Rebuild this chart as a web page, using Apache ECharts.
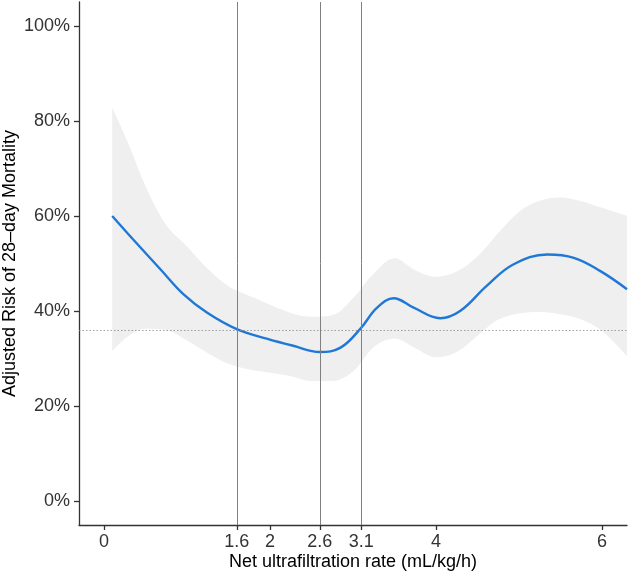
<!DOCTYPE html>
<html>
<head>
<meta charset="utf-8">
<script src="https://cdn.jsdelivr.net/npm/echarts@6/dist/echarts.min.js"></script>
<style>
  html, body { margin: 0; padding: 0; background: #fff; }
  #chart_risk { width: 630px; height: 576px; }
</style>
</head>
<body>
<div id="chart_risk"></div>
<script>
// 曲线（估计值）
const curveX = [0.1, 0.35, 0.68, 0.96, 1.24, 1.6, 1.96, 2.28, 2.6, 2.85, 3.09, 3.29, 3.49, 3.73, 4.05, 4.29, 4.61, 4.93, 5.34, 5.66, 5.98, 6.3];
const curveRisk = [60.0, 55.1, 48.8, 43.5, 39.7, 36.2, 34.2, 32.7, 31.4, 32.3, 36.3, 40.7, 42.7, 40.7, 38.5, 40.0, 45.3, 49.8, 51.9, 51.2, 48.4, 44.6];

// 置信区间
const bandX = [0.1, 0.3, 0.5, 0.75, 1.0, 1.25, 1.5, 1.75, 2.0, 2.25, 2.5, 2.75, 3.0, 3.25, 3.5, 3.75, 4.0, 4.25, 4.5, 4.75, 5.0, 5.25, 5.5, 5.75, 6.0, 6.3];
const bandLow = [31.6, 34.8, 36.3, 36.0, 33.8, 31.2, 28.9, 27.7, 27.0, 26.3, 25.3, 25.3, 27.3, 32.4, 34.2, 32.2, 30.3, 31.4, 34.8, 38.2, 39.5, 39.8, 39.3, 38.2, 35.8, 30.5];
const bandHigh = [82.8, 75.0, 66.3, 58.1, 53.6, 48.9, 45.2, 43.2, 41.3, 39.6, 38.8, 39.1, 42.7, 47.9, 51.1, 48.6, 47.2, 48.3, 51.5, 56.4, 60.9, 63.2, 63.9, 63.1, 61.7, 60.0];

// 刻度与参考线
const xTicks = [0, 1.6, 2, 2.6, 3.1, 4, 6];
const yTicks = [0, 20, 40, 60, 80, 100];
const cutPoints = [1.6, 2.6, 3.1];
const refRisk = 36;

const font = '"Liberation Sans", Arial, sans-serif';

let myChart = echarts.init(document.getElementById('chart_risk'));

let option = {
  animation: false,
  backgroundColor: '#fff',
  grid: {
    left: 79,
    right: 3,
    top: 2,
    bottom: 51,
    outerBoundsMode: 'none'
  },
  xAxis: {
    type: 'value',
    min: -0.3,
    max: 6.3,
    name: 'Net ultrafiltration rate (mL/kg/h)',
    nameLocation: 'middle',
    nameGap: 28,
    nameMoveOverlap: false,
    nameTextStyle: { fontFamily: font, fontSize: 18, color: '#000' },
    splitLine: { show: false },
    axisLine: { onZero: false, lineStyle: { color: '#333', width: 1.3 } },
    axisTick: { customValues: xTicks, length: 5, lineStyle: { color: '#333', width: 1.3 } },
    axisLabel: { customValues: xTicks, margin: 8, fontFamily: font, fontSize: 18, color: '#333' }
  },
  yAxis: {
    type: 'value',
    min: -5,
    max: 105,
    name: 'Adjusted Risk of 28\u2013day Mortality',
    nameLocation: 'middle',
    nameGap: 60,
    nameMoveOverlap: false,
    nameTextStyle: { fontFamily: font, fontSize: 18, color: '#000' },
    splitLine: { show: false },
    axisLine: { show: true, onZero: false, lineStyle: { color: '#333', width: 1.3 } },
    axisTick: { show: true, customValues: yTicks, length: 5, lineStyle: { color: '#333', width: 1.3 } },
    axisLabel: { customValues: yTicks, margin: 9, fontFamily: font, fontSize: 18, color: '#333', formatter: '{value}%' }
  },
  series: [{
    // 下界（透明），y 维放在第一列以便按 y 堆叠
    name: 'lower',
    type: 'line',
    stack: 'ci',
    encode: { x: 1, y: 0 },
    z: 1,
    smooth: 0.35,
    symbol: 'none',
    silent: true,
    lineStyle: { opacity: 0 },
    data: bandX.map((x, i) => [bandLow[i], x])
  }, {
    // 区间宽度，堆叠在下界之上
    name: 'ci',
    type: 'line',
    stack: 'ci',
    encode: { x: 1, y: 0 },
    z: 1,
    smooth: 0.35,
    symbol: 'none',
    silent: true,
    lineStyle: { opacity: 0 },
    areaStyle: { color: '#efefef', opacity: 1 },
    data: bandX.map((x, i) => [bandHigh[i] - bandLow[i], x])
  }, {
    name: 'ref',
    type: 'line',
    z: 3,
    symbol: 'none',
    silent: true,
    data: [],
    markLine: {
      silent: true,
      symbol: ['none', 'none'],
      label: { show: false },
      data: cutPoints.map(v => ({ xAxis: v, lineStyle: { color: '#808080', width: 1, type: 'solid' } }))
        .concat([{ yAxis: refRisk, lineStyle: { color: '#888', width: 0.8, type: [1.5, 2] } }])
    }
  }, {
    name: 'risk',
    type: 'line',
    z: 4,
    smooth: 0.4,
    symbol: 'none',
    lineStyle: { color: '#1f78d6', width: 2.4 },
    data: curveX.map((x, i) => [x, curveRisk[i]])
  }]
};

myChart.setOption(option, true);
window.addEventListener('resize', () => {
  myChart.resize();
});
</script>
</body>
</html>
